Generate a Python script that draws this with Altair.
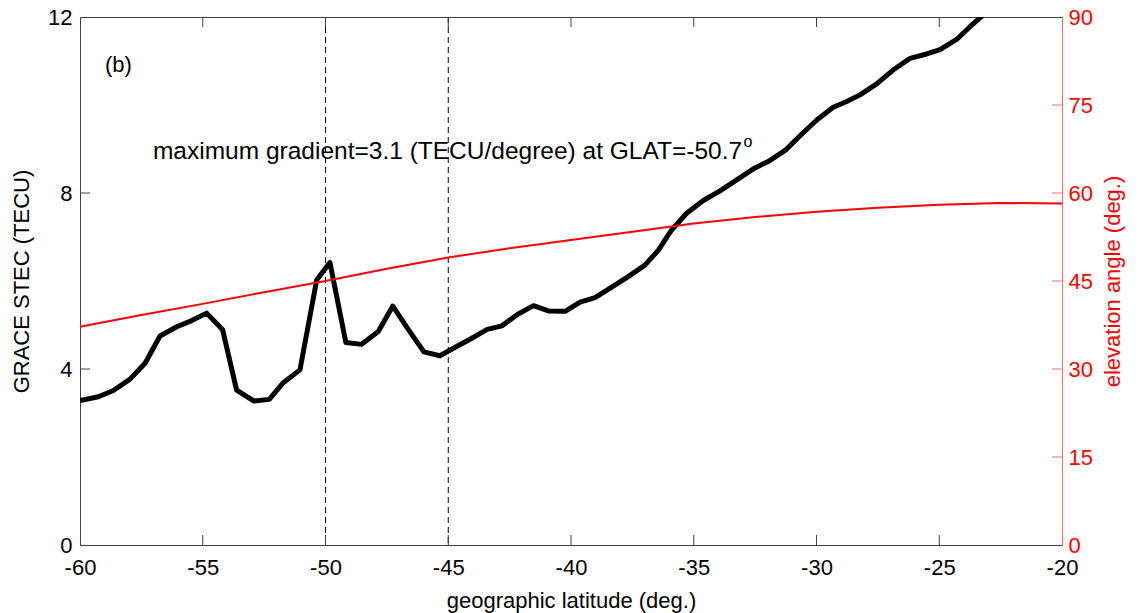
import altair as alt
import pandas as pd

# ---- data ----
stec_lat = [-60.0, -59.25, -58.64, -57.96, -57.35, -56.74, -56.06, -55.45, -54.84, -54.19,
            -53.62, -52.91, -52.29, -51.72, -51.04, -50.36, -49.82, -49.17, -48.53, -47.85,
            -47.26, -46.63, -45.99, -45.34, -44.66, -44.04, -43.41, -42.82, -42.15, -41.53,
            -40.92, -40.24, -39.63, -39.02, -38.34, -37.67, -36.99, -36.44, -35.90, -35.29,
            -34.61, -33.93, -33.25, -32.57, -31.89, -31.25, -30.67, -29.99, -29.32, -28.77,
            -28.23, -27.55, -26.87, -26.19, -25.51, -24.97, -24.29, -23.75, -23.20, -22.65]
stec_val = [3.28, 3.37, 3.51, 3.77, 4.13, 4.75, 4.96, 5.10, 5.27, 4.89,
            3.52, 3.27, 3.31, 3.69, 3.98, 6.02, 6.42, 4.60, 4.56, 4.85,
            5.43, 4.90, 4.39, 4.30, 4.51, 4.70, 4.90, 4.98, 5.25, 5.44,
            5.32, 5.31, 5.52, 5.62, 5.86, 6.10, 6.36, 6.70, 7.16, 7.54,
            7.83, 8.05, 8.30, 8.55, 8.74, 8.98, 9.30, 9.66, 9.95, 10.08,
            10.23, 10.48, 10.80, 11.06, 11.16, 11.26, 11.49, 11.78, 12.05, 12.35]

elev_lat = [-60, -57.5, -55, -52.5, -50, -47.5, -45, -42.5, -40, -37.5, -35, -32.5,
            -30, -27.5, -25, -22.5, -20]
elev_val = [37.2, 39.2, 41.1, 43.1, 45.0, 47.1, 49.0, 50.6, 52.0, 53.4, 54.8, 55.9,
            56.8, 57.5, 58.0, 58.3, 58.2]

x_ticks = [-60, -55, -50, -45, -40, -35, -30, -25, -20]
x_inner_ticks = [-55, -50, -45, -40, -35, -30, -25]
y_left_ticks = [0, 4, 8, 12]
y_left_inner = [4, 8]
y_right_ticks = [0, 15, 30, 45, 60, 75, 90]
y_right_inner = [15, 30, 45, 60, 75]
dashed_lat = [-50, -45]

annot_text = "maximum gradient=3.1 (TECU/degree) at GLAT=-50.7"
annot_sup = "o"
panel_label = "(b)"

W, H = 982, 528
FONT = "Liberation Sans"
FS = 22
RED = "#ff0000"
FRAME = "#404040"
PLAIN = "'' + datum.value"

stec_df = pd.DataFrame({"lat": stec_lat, "stec": stec_val})
elev_df = pd.DataFrame({"lat": elev_lat, "elev": elev_val})

xscale = alt.Scale(domain=[-60, -20], nice=False, zero=False)
yl = alt.Scale(domain=[0, 12], nice=False)
yr = alt.Scale(domain=[0, 90], nice=False)

x_axis = alt.Axis(values=x_ticks, tickSize=0, domain=False, grid=False, labelFlush=False,
                  labelExpr=PLAIN, labelOverlap=False,
                  labelFontSize=FS, labelFont=FONT, labelColor="black", labelPadding=12,
                  title="geographic latitude (deg.)", titleFontSize=FS, titleFont=FONT,
                  titleFontWeight="normal", titleColor="black", titlePadding=12)

yl_axis = alt.Axis(values=y_left_ticks, tickSize=0, domain=False, grid=False, labelFlush=False,
                   labelExpr=PLAIN, labelOverlap=False,
                   labelFontSize=FS, labelFont=FONT, labelColor="black", labelPadding=8,
                   title="GRACE STEC (TECU)", titleFontSize=FS, titleFont=FONT,
                   titleFontWeight="normal", titleColor="black", titlePadding=14)

yr_axis = alt.Axis(values=y_right_ticks, orient="right", tickSize=0, domain=True,
                   domainColor="#ff6a6a", domainWidth=1, grid=False, labelFlush=False,
                   labelExpr=PLAIN, labelOverlap=False,
                   labelFontSize=FS, labelFont=FONT, labelColor=RED, labelPadding=6,
                   title="elevation angle (deg.)", titleFontSize=FS, titleFont=FONT,
                   titleFontWeight="normal", titleColor=RED, titlePadding=32,
                   titleAngle=270)

X = alt.X("lat:Q", scale=xscale, axis=x_axis)
YL = alt.Y("stec:Q", scale=yl, axis=yl_axis)
YR = alt.Y("elev:Q", scale=yr, axis=yr_axis)

# ---- left (STEC) group ----
stec_line = alt.Chart(stec_df).mark_line(color="black", strokeWidth=5, clip=True,
                                         strokeJoin="round").encode(x=X, y=YL)

dash_rules = alt.Chart(pd.DataFrame({"lat": dashed_lat})).mark_rule(
    color="black", strokeWidth=1, strokeDash=[6, 4]).encode(
    x=X, y=alt.value(0), y2=alt.value(H),
)

xt_df = pd.DataFrame({"lat": x_inner_ticks})
bottom_ticks = alt.Chart(xt_df).mark_rule(color=FRAME, strokeWidth=1).encode(
    x=X, y=alt.value(H), y2=alt.value(H - 10),
)
top_ticks = alt.Chart(xt_df).mark_rule(color=FRAME, strokeWidth=1).encode(
    x=X, y=alt.value(0), y2=alt.value(10),
)
left_ticks = alt.Chart(pd.DataFrame({"stec": y_left_inner})).mark_rule(
    color=FRAME, strokeWidth=1).encode(
    y=YL, x=alt.value(0), x2=alt.value(10),
)

annot = alt.Chart(pd.DataFrame({"lat": [-33.03], "stec": [8.93], "t": [annot_text]})).mark_text(
    align="right", baseline="middle", font=FONT, fontSize=24.5, color="black").encode(
    x=X, y=YL, text="t:N",
)
sup = alt.Chart(pd.DataFrame({"lat": [-32.97], "stec": [9.17], "t": [annot_sup]})).mark_text(
    align="left", baseline="middle", font=FONT, fontSize=16, color="black").encode(
    x=X, y=YL, text="t:N",
)
plabel = alt.Chart(pd.DataFrame({"lat": [-58.98], "stec": [10.91], "t": [panel_label]})).mark_text(
    align="left", baseline="middle", font=FONT, fontSize=FS, color="black").encode(
    x=X, y=YL, text="t:N",
)

left = alt.layer(stec_line, dash_rules, bottom_ticks, top_ticks, left_ticks, annot, sup, plabel)

# ---- right (elevation) group ----
elev_line = alt.Chart(elev_df).mark_line(color=RED, strokeWidth=2).encode(x=X, y=YR)
right_ticks = alt.Chart(pd.DataFrame({"elev": y_right_inner})).mark_rule(
    color="#ff6a6a", strokeWidth=1).encode(
    y=YR, x=alt.value(W), x2=alt.value(W - 10),
)
right = alt.layer(elev_line, right_ticks)

chart = alt.layer(left, right).resolve_scale(y="independent").properties(
    width=W, height=H,
    autosize="none",
    background="white",
    padding={"left": 72, "top": 9, "right": 70, "bottom": 68},
).configure_view(stroke=FRAME, strokeWidth=1)

chart.save("out.html", embed_options={"renderer": "svg", "actions": False})
